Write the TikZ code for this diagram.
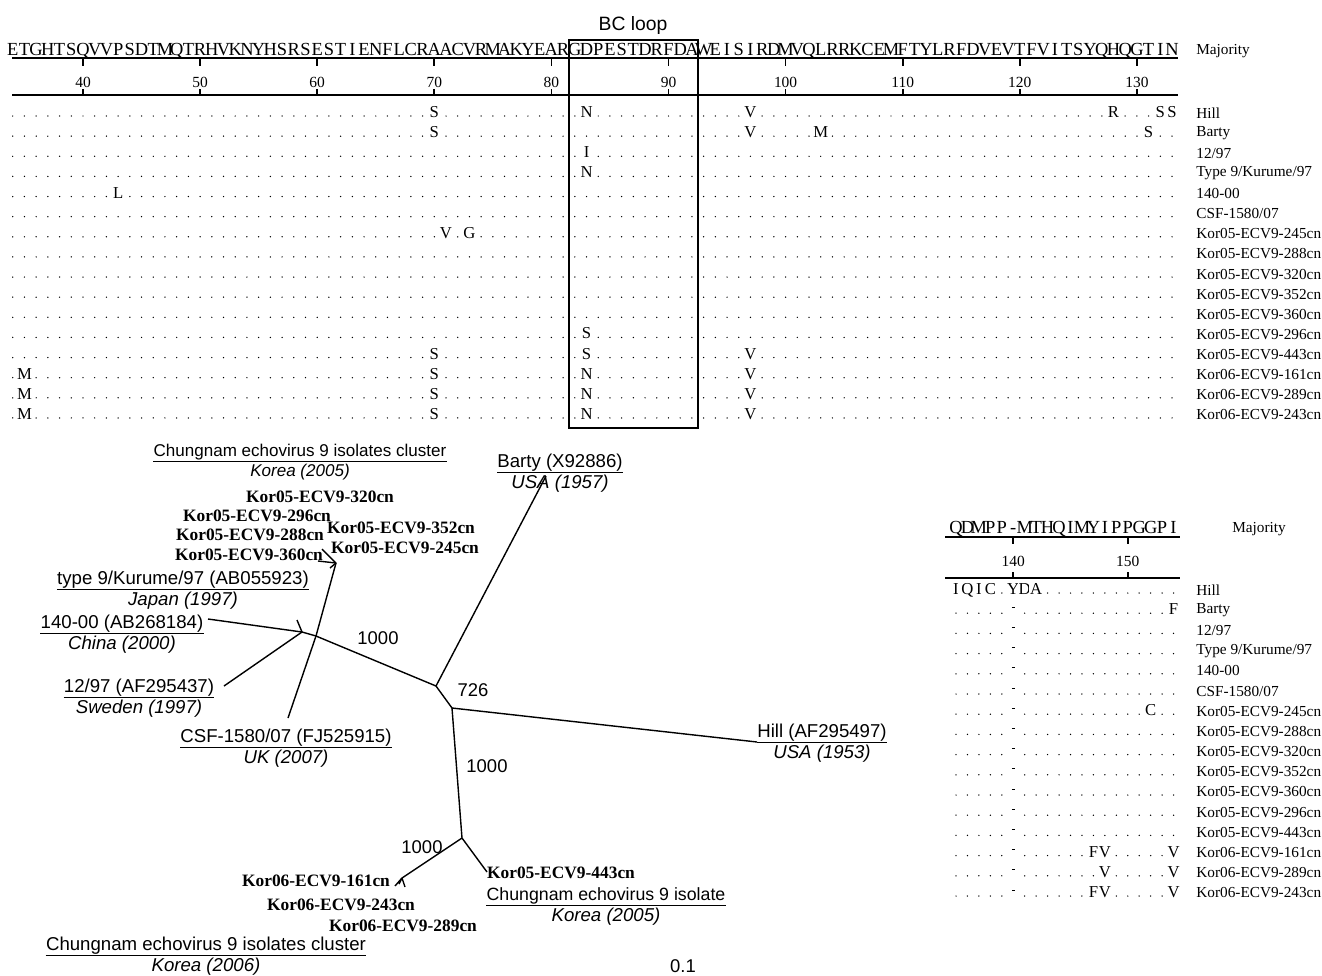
\documentclass[tikz,border=0pt]{standalone}
\usepackage{fontspec}
\setmainfont{Liberation Serif}
\newfontfamily\arialfont{Liberation Sans}
\usetikzlibrary{positioning}

\begin{document}
\begin{tikzpicture}[
  x=0.02cm, y=-0.02cm,
  majseq/.style={font=\fontsize{10.5}{11}\selectfont, inner sep=0pt, anchor=base},
  mut/.style={font=\fontsize{9.5}{10}\selectfont, inner sep=0.4pt, fill=white, anchor=base},
  tag/.style={font=\fontsize{8.7}{9}\selectfont, inner sep=0pt, anchor=west},
  num/.style={font=\fontsize{8.8}{9}\selectfont, inner sep=0pt},
  rulerline/.style={line width=1.3pt},
  branch/.style={line width=0.8pt},
  isol/.style={font=\bfseries\fontsize{9.9}{10}\selectfont, inner sep=0pt},
  strainlab/.style={font=\arialfont\fontsize{10.6}{11}\selectfont, inner xsep=0pt,
                    inner ysep=0.6pt, text height=0.72em, text depth=0.22em},
  countrylab/.style={font=\arialfont\itshape\fontsize{10.6}{11}\selectfont, inner sep=1.2pt},
  small/.style={font=\arialfont\fontsize{9.7}{10}\selectfont},
  smallit/.style={font=\arialfont\itshape\fontsize{9.7}{10}\selectfont},
  bootlab/.style={font=\arialfont\fontsize{10.5}{11}\selectfont, inner sep=0pt},
]
\useasboundingbox (0,0) rectangle (1322,975);

% upper alignment
\node[font=\arialfont\fontsize{11}{12}\selectfont, inner sep=0pt] (bc) at (633,25) {BC loop};
\draw[line width=0.8pt] (569,40) rectangle (698,428);
\foreach \c [count=\i from 34] in {E,T,G,H,T,S,Q,V,V,P,S,D,T,M,Q,T,R,H,V,K,N,Y,H,S,R,S,E,S,T,I,
    E,N,F,L,C,R,A,A,C,V,R,M,A,K,Y,E,A,R,G,D,P,E,S,T,D,R,F,D,A,W,E,I,S,I,R,D,M,V,Q,L,
    R,R,K,C,E,M,F,T,Y,L,R,F,D,V,E,V,T,F,V,I,T,S,Y,Q,H,Q,G,T,I,N}
  \node[majseq] (mj\i) at ({83+(\i-40)*11.71},55) {\c};
\node[tag] (majtop) at (1196,51) {Majority};
\draw[rulerline] (12,58) -- (1178,58);
\draw[rulerline] (12,95) -- (1178,95);
\foreach \p in {40,50,...,130}{
  \draw[line width=1pt] ({83+(\p-40)*11.71},58) -- ++(0,8);
  \draw[line width=1pt] ({83+(\p-40)*11.71},95) -- ++(0,-6);
  \node[num] (tk\p) at ({83+(\p-40)*11.71},82) {\p};
}
\foreach \lab [count=\r from 0] in {Hill,Barty,{12/97},{Type 9/Kurume/97},140-00,{CSF-1580/07},
    Kor05-ECV9-245cn,Kor05-ECV9-288cn,Kor05-ECV9-320cn,Kor05-ECV9-352cn,Kor05-ECV9-360cn,
    Kor05-ECV9-296cn,Kor05-ECV9-443cn,Kor06-ECV9-161cn,Kor06-ECV9-289cn,Kor06-ECV9-243cn}{
  \node[tag] (ta\r) at (1196,{113+20.13*\r}) {\lab};
  \foreach \p in {34,...,133}
    \fill ({83+(\p-40)*11.71},{116+20.13*\r}) circle[radius=0.42pt];
}
\foreach \r/\p/\c in {0/70/S,0/83/N,0/97/V,0/128/R,0/132/S,0/133/S,
    1/70/S,1/97/V,1/103/M,1/131/S,2/83/I,3/83/N,4/43/L,6/71/V,6/73/G,11/83/S,
    12/70/S,12/83/S,12/97/V,13/35/M,13/70/S,13/83/N,13/97/V,
    14/35/M,14/70/S,14/83/N,14/97/V,15/35/M,15/70/S,15/83/N,15/97/V}
  \node[mut] (mu\r-\p) at ({83+(\p-40)*11.71},{117.5+20.13*\r}) {\c};

% lower alignment
\foreach \c [count=\i from 0] in {Q,D,M,P,P,-,M,T,H,Q,I,M,Y,I,P,P,G,G,P,I}
  \node[majseq] (lj\i) at ({956+\i*11.45},533) {\c};
\node[tag] (majlow) at (1232,529) {Majority};
\draw[rulerline] (945,537) -- (1180,537);
\draw[rulerline] (945,578) -- (1180,578);
\foreach \c/\p in {5/140,15/150}{
  \draw[line width=1pt] ({956+\c*11.45},537) -- ++(0,7);
  \draw[line width=1pt] ({956+\c*11.45},578) -- ++(0,-6);
  \node[num] (lk\p) at ({956+\c*11.45},561) {\p};
}
\foreach \lab [count=\r from 0] in {Hill,Barty,{12/97},{Type 9/Kurume/97},140-00,{CSF-1580/07},
    Kor05-ECV9-245cn,Kor05-ECV9-288cn,Kor05-ECV9-320cn,Kor05-ECV9-352cn,Kor05-ECV9-360cn,
    Kor05-ECV9-296cn,Kor05-ECV9-443cn,Kor06-ECV9-161cn,Kor06-ECV9-289cn,Kor06-ECV9-243cn}{
  \node[tag] (tb\r) at (1196,{590+20.2*\r}) {\lab};
  \foreach \c in {0,1,2,3,4,6,7,8,9,10,11,12,13,14,15,16,17,18,19}
    \fill ({956+\c*11.45},{593+20.2*\r}) circle[radius=0.42pt];
  \draw[line width=0.5pt] ({956+5*11.45-1.5},{587+20.2*\r}) -- ++(3,0);
}
\foreach \r/\c/\s in {0/0/I,0/1/Q,0/2/I,0/3/C,0/5/Y,0/6/D,0/7/A,1/19/F,6/17/C,
    13/12/F,13/13/V,13/19/V,14/13/V,14/19/V,15/12/F,15/13/V,15/19/V}
  \node[mut] (ml\r-\c) at ({956+\c*11.45},{594.5+20.2*\r}) {\s};

% tree
\coordinate (root) at (436,686);
\coordinate (lft) at (316,636);
\coordinate (lft2) at (302,632);
\coordinate (k5fork) at (336,563);
\coordinate (hillnd) at (452,708);
\coordinate (k6nd) at (462,838);
\coordinate (k6fork) at (402,878);
\coordinate (bartytip) at (546,476);
\coordinate (hilltip) at (757,742);
\coordinate (tip140) at (208,619);
\coordinate (tip1297) at (224,686);
\coordinate (tipcsf) at (288,718);
\coordinate (tiptype) at (297,620);
\coordinate (tip443) at (487,872);
\coordinate (k5a) at (322,549);
\coordinate (k5b) at (318,561);
\coordinate (k5c) at (330,568);
\coordinate (k6a) at (395,886);
\coordinate (k6b) at (405,887);
\coordinate (k6c) at (399,884);

\draw[branch] (root) -- (bartytip);
\draw[branch] (root) -- (hillnd) -- (hilltip);
\draw[branch] (hillnd) -- (k6nd) -- (tip443);
\draw[branch] (k6nd) -- (k6fork);
\draw[branch] (k6fork) -- (k6a);
\draw[branch] (k6fork) -- (k6b);
\draw[branch] (k6fork) -- (k6c);
\draw[branch] (root) -- (lft) -- (lft2);
\draw[branch] (lft2) -- (tip140);
\draw[branch] (lft2) -- (tip1297);
\draw[branch] (lft2) -- (tiptype);
\draw[branch] (lft) -- (tipcsf);
\draw[branch] (lft) -- (k5fork);
\draw[branch] (k5fork) -- (k5a);
\draw[branch] (k5fork) -- (k5b);
\draw[branch] (k5fork) -- (k5c);

\node[bootlab] (bs1) at (378,638) {1000};
\node[bootlab] (bs2) at (473,690) {726};
\node[bootlab] (bs3) at (487,766) {1000};
\node[bootlab] (bs4) at (422,847) {1000};
\node[bootlab] (scale) at (683,966) {0.1};

\node[strainlab, small] (cl5) at (300,452) {Chungnam echovirus 9 isolates cluster};
\draw (cl5.south west) -- (cl5.south east);
\node[countrylab, smallit, below=0pt of cl5] (cl5c) {Korea (2005)};
\node[strainlab] (barty) at (560,463) {Barty (X92886)};
\draw (barty.south west) -- (barty.south east);
\node[countrylab, below=0pt of barty] (bartyc) {USA (1957)};
\node[strainlab] (kur) at (183,580) {type 9/Kurume/97 (AB055923)};
\draw (kur.south west) -- (kur.south east);
\node[countrylab, below=0pt of kur] (kurc) {Japan (1997)};
\node[strainlab] (s140) at (122,624) {140-00 (AB268184)};
\draw (s140.south west) -- (s140.south east);
\node[countrylab, below=0pt of s140] (s140c) {China (2000)};
\node[strainlab] (s1297) at (139,688) {12/97 (AF295437)};
\draw (s1297.south west) -- (s1297.south east);
\node[countrylab, below=0pt of s1297] (s1297c) {Sweden (1997)};
\node[strainlab] (csf) at (286,738) {CSF-1580/07 (FJ525915)};
\draw (csf.south west) -- (csf.south east);
\node[countrylab, below=0pt of csf] (csfc) {UK (2007)};
\node[strainlab] (hill) at (822,733) {Hill (AF295497)};
\draw (hill.south west) -- (hill.south east);
\node[countrylab, below=0pt of hill] (hillc) {USA (1953)};
\node[strainlab, font=\arialfont\fontsize{10.1}{11}\selectfont] (iso) at (606,896) {Chungnam echovirus 9 isolate};
\draw (iso.south west) -- (iso.south east);
\node[countrylab, below=0pt of iso] (isoc) {Korea (2005)};
\node[strainlab] (cl6) at (206,946) {Chungnam echovirus 9 isolates cluster};
\draw (cl6.south west) -- (cl6.south east);
\node[countrylab, below=0pt of cl6] (cl6c) {Korea (2006)};

\node[isol] (k320) at (320,497) {Kor05-ECV9-320cn};
\node[isol] (k296) at (257,516) {Kor05-ECV9-296cn};
\node[isol] (k352) at (401,528) {Kor05-ECV9-352cn};
\node[isol] (k288) at (250,535) {Kor05-ECV9-288cn};
\node[isol] (k245) at (405,548) {Kor05-ECV9-245cn};
\node[isol] (k360) at (249,555) {Kor05-ECV9-360cn};
\node[isol] (k161) at (316,881) {Kor06-ECV9-161cn};
\node[isol] (k443) at (561,873) {Kor05-ECV9-443cn};
\node[isol] (k243) at (341,905) {Kor06-ECV9-243cn};
\node[isol] (k289) at (403,926) {Kor06-ECV9-289cn};
\end{tikzpicture}
\end{document}
